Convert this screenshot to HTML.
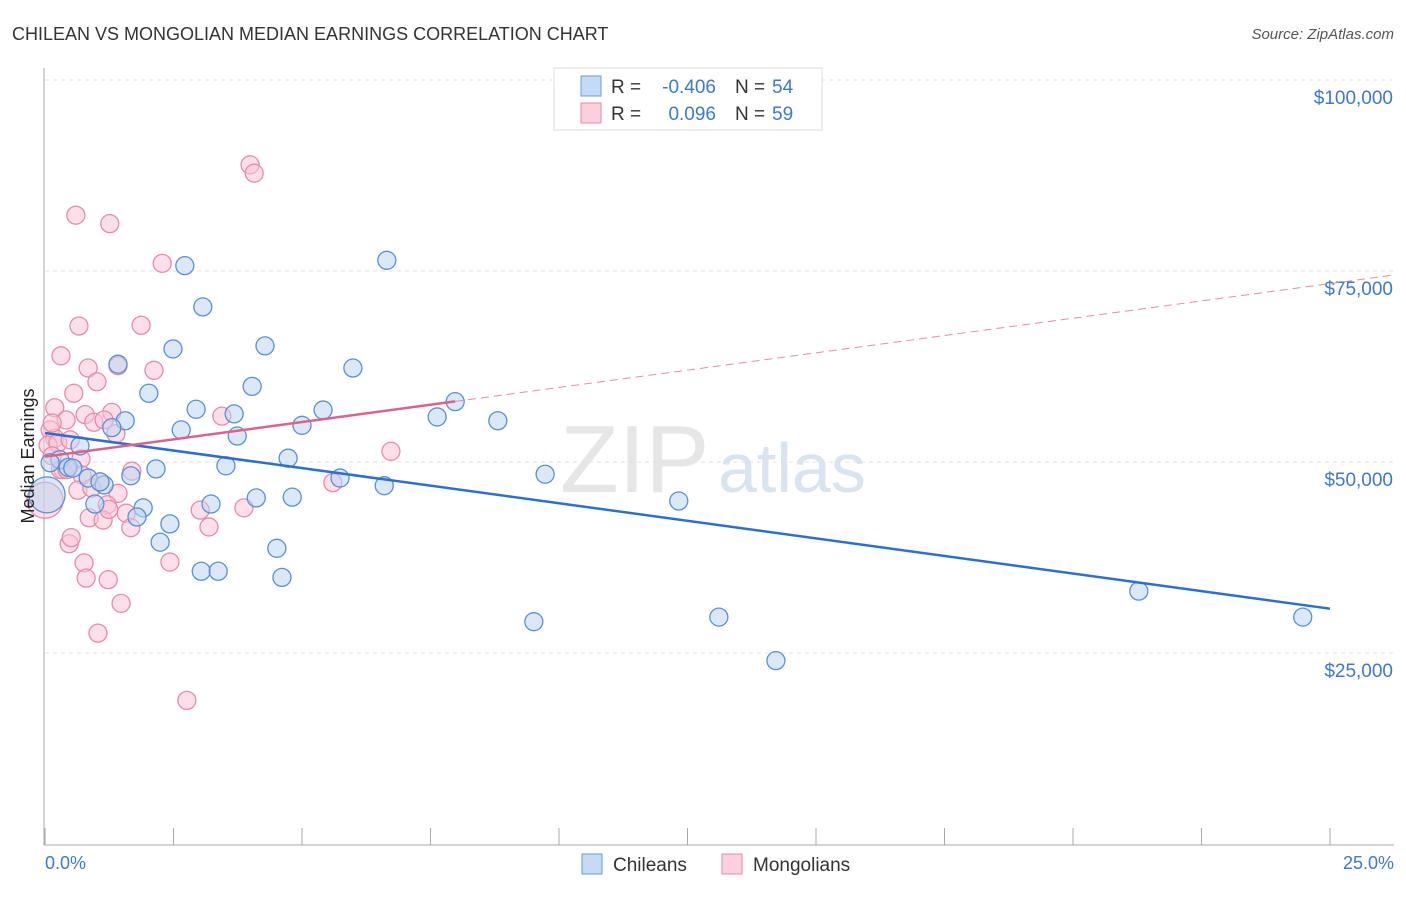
<!DOCTYPE html>
<html><head><meta charset="utf-8"><style>
body{margin:0;background:#fff;font-family:"Liberation Sans",sans-serif;}
svg text{font-family:"Liberation Sans",sans-serif;}
</style></head><body>
<svg width="1406" height="892" xmlns="http://www.w3.org/2000/svg">
<text x="12" y="40" font-size="18" fill="#333">CHILEAN VS MONGOLIAN MEDIAN EARNINGS CORRELATION CHART</text>
<text x="1394" y="39" font-size="15" fill="#555" text-anchor="end" font-style="italic">Source: ZipAtlas.com</text>
<text x="560" y="492" font-size="96" fill="#e6e6e6" font-family="Liberation Serif">ZIP</text>
<text x="718" y="492" font-size="70" fill="#d8e4f2">atlas</text>
<g id="grid"></g><g id="axes"></g><g id="pts"></g><g id="lines"></g>
<text transform="translate(34,456) rotate(-90)" font-size="18" fill="#222" text-anchor="middle">Median Earnings</text>
<text x="45" y="869" font-size="18" fill="#3a78d6">0.0%</text>
<text x="1394" y="869" font-size="18" fill="#3a78d6" text-anchor="end">25.0%</text>
<g>
<rect x="554" y="68" width="268" height="62" fill="#fff" stroke="#ddd"/>
<rect x="581" y="76" width="20" height="20" fill="#c5dbf5" stroke="#6b9ee0"/>
<rect x="581" y="103" width="20" height="20" fill="#f9d0dc" stroke="#e88aa8"/>
<text x="611" y="93" font-size="19" fill="#333">R =</text>
<text x="716" y="93" font-size="19" fill="#3a78d6" text-anchor="end">-0.406</text>
<text x="735" y="93" font-size="19" fill="#333">N =</text>
<text x="772" y="93" font-size="19" fill="#3a78d6">54</text>
<text x="611" y="120" font-size="19" fill="#333">R =</text>
<text x="716" y="120" font-size="19" fill="#3a78d6" text-anchor="end">0.096</text>
<text x="735" y="120" font-size="19" fill="#333">N =</text>
<text x="772" y="120" font-size="19" fill="#3a78d6">59</text>
</g>
<g>
<rect x="582" y="854" width="20" height="20" fill="#c5dbf5" stroke="#6b9ee0"/>
<text x="613" y="871" font-size="19" fill="#333">Chileans</text>
<rect x="722" y="854" width="20" height="20" fill="#f9d0dc" stroke="#e88aa8"/>
<text x="753" y="871" font-size="19" fill="#333">Mongolians</text>
</g>
</svg>
<script>
const yTicks=[25000,50000,75000,100000];
const yTickLabels=["$25,000","$50,000","$75,000","$100,000"];
const chileanX=[2.72,3.07,6.65,4.28,2.49,1.42,5.99,4.03,2.02,7.98,2.94,3.68,5.41,1.56,7.63,8.81,2.65,5.00,3.74,0.68,1.30,4.73,3.52,2.16,0.29,0.45,0.54,5.74,1.67,0.84,9.73,1.15,6.60,4.11,4.81,3.23,0.97,1.91,12.33,1.79,2.43,2.24,4.51,3.04,3.37,4.61,21.28,9.51,13.11,24.47,14.22,0.10,1.07,0.04];
const chileanY=[75.7,70.3,76.4,65.2,64.8,62.8,62.3,59.9,59.0,57.9,56.9,56.3,56.8,55.4,55.9,55.4,54.2,54.8,53.4,52.1,54.5,50.5,49.5,49.1,50.3,49.3,49.2,47.9,48.2,47.9,48.4,47.0,46.9,45.3,45.4,44.5,44.5,44.0,44.9,42.8,41.9,39.5,38.7,35.7,35.7,34.9,33.1,29.1,29.7,29.7,24.0,49.9,47.4,45.7];
const mongolX=[3.99,4.07,0.60,1.26,2.28,0.66,1.87,0.31,0.84,1.42,2.12,1.01,0.56,0.19,0.78,1.30,0.41,0.95,1.15,3.44,1.38,0.10,0.19,0.06,0.25,0.49,6.73,0.70,0.14,0.72,1.69,0.35,5.60,1.07,0.64,0.91,1.42,1.21,3.02,3.87,1.58,0.86,1.13,3.19,1.67,0.47,0.51,0.76,2.43,0.80,1.23,1.48,1.03,2.76,0.0,0.14,0.30,0.43,1.24];
const mongolY=[88.9,87.8,82.3,81.2,76.0,67.8,67.9,63.9,62.3,62.6,62.0,60.5,59.0,57.1,56.2,56.5,55.5,55.2,55.5,56.0,53.7,54.2,53.1,52.2,52.5,52.9,51.4,50.4,50.8,48.3,48.8,49.0,47.3,47.4,46.3,46.6,45.9,44.4,43.7,44.0,43.3,42.7,42.4,41.5,41.4,39.3,40.1,36.8,36.9,34.8,34.6,31.5,27.6,18.8,45.0,55.1,49.0,49.0,43.8];
const blueTrend=[53.8,30.8];
const pinkTrend=[50.7,73.35];
const NS="http://www.w3.org/2000/svg";
const X=v=>45+v/25*1285, Y=v=>844-v/25*191;
function mk(t,a,p){const e=document.createElementNS(NS,t);for(const k in a)e.setAttribute(k,a[k]);document.getElementById(p).appendChild(e);return e;}
yTicks.forEach((t,i)=>{
 const g=mk('line',{x1:45,x2:1394,y1:Y(t/1000),y2:Y(t/1000),stroke:'#e2e2e2','stroke-dasharray':'4,4'},'grid');
 
 
 const l=mk('text',{x:1393,y:Y(t/1000)+24,'font-size':19,fill:'#3a78d6','text-anchor':'end'},'grid');
 l.textContent=yTickLabels[i];
 
 
});
mk('line',{x1:45,x2:1394,y1:80,y2:80,stroke:'#e2e2e2','stroke-dasharray':'4,4'},'grid');
mk('line',{x1:44,x2:44,y1:68,y2:845,stroke:'#aaa'},'axes');
mk('line',{x1:44,x2:1394,y1:845,y2:845,stroke:'#aaa'},'axes');
for(let i=0;i<=10;i++){const t=mk('line',{x1:X(i*2.5),x2:X(i*2.5),y1:828,y2:845,stroke:'#aaa'},'axes');}
function pts(xs,ys,f,s,name){xs.forEach((x,i)=>{const big=(x<0.05&&(ys[i]===45.7||ys[i]===45.0));const c=mk('circle',{cx:X(x),cy:Y(ys[i]),r:big?18:9,fill:f,'fill-opacity':0.55,stroke:s,'stroke-width':1.3},'pts');});}
pts(mongolX,mongolY,'#f9c5d5','#e98aa9','mongolian-point');
pts(chileanX,chileanY,'#bcd5f3','#5a8fd8','chilean-point');
let b=mk('line',{x1:X(0),y1:Y(blueTrend[0]),x2:X(25),y2:Y(blueTrend[1]),stroke:'#2a6fd6','stroke-width':2.5},'lines');

const ps=(pinkTrend[1]-pinkTrend[0])/25, pe=x=>pinkTrend[0]+ps*x;
let p=mk('line',{x1:X(0),y1:Y(pe(0)),x2:X(7.98),y2:Y(pe(7.98)),stroke:'#e0608a','stroke-width':2.5},'lines');

let pd=mk('line',{x1:X(7.98),y1:Y(pe(7.98)),x2:X(26.26),y2:Y(pe(26.26)),stroke:'#e88aa8','stroke-width':1,'stroke-dasharray':'8,5'},'lines');

</script>
</body></html>
